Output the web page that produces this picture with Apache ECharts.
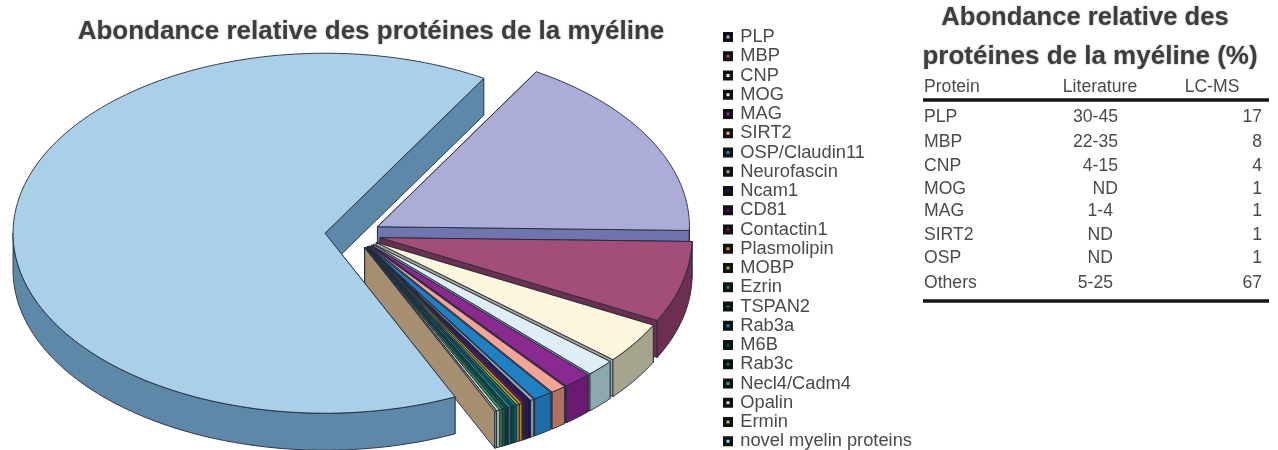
<!DOCTYPE html>
<html><head><meta charset="utf-8">
<script src="https://cdn.jsdelivr.net/npm/echarts@6/dist/echarts.min.js"></script>
<style>html,body{margin:0;padding:0;background:#fff}#c{width:1278px;height:450px}</style>
</head><body><div id="c"></div>
<script>
const proteins = ['PLP','MBP','CNP','MOG','MAG','SIRT2','OSP/Claudin11','Neurofascin','Ncam1','CD81','Contactin1','Plasmolipin','MOBP','Ezrin','TSPAN2','Rab3a','M6B','Rab3c','Necl4/Cadm4','Opalin','Ermin','novel myelin proteins'];
const shares = [16.9,7.3,3.7,1.5,1.5,0.8,1,0.2,0.15,0.15,0.15,0.15,0.15,0.15,0.15,0.15,0.15,0.15,0.15,0.15,0.1,65.6];
const topColors = ['#abacd7','#a34e78','#fbf6dc','#dfedf6','#8a2a90','#f3a595','#1f80c4','#9aa4ae','#1b1b60','#4a1060','#6b1656','#c8a020','#a8a838','#0f7f80','#125c50','#0d8fa0','#0a4d40','#1a6a50','#30a060','#d0d8d0','#c4a884','#a9cfe9'];
const wallColors = ['#6f76ad','#6d2f50','#a5a48c','#8caaae','#6a1a70','#b2705f','#1c6ea8','#8b949c','#14144a','#3a0c4c','#561246','#b08a18','#908f2a','#0b6a6b','#0e4a40','#0a7888','#083c32','#145640','#258050','#c0c8c0','#a68f70','#5d88a8'];
const tableTitle = ['Abondance relative des','protéines de la myéline (%)'];
const chartTitle = 'Abondance relative des protéines de la myéline';
const tableHeader = ['Protein','Literature','LC-MS'];
const tableProteins = ['PLP','MBP','CNP','MOG','MAG','SIRT2','OSP','Others'];
const tableLiterature = ['30-45','22-35','4-15','ND','1-4','ND','ND','5-25'];
const tableLcms = ['17','8','4','1','1','1','1','67'];

const FONT = '"Liberation Sans", Arial, sans-serif';
const cx = 353, cy = 234, rx = 312, ry = 180, depth = 37, ex = 28, ey = 15, startAngle = 30.6;
const total = shares.reduce((a,b)=>a+b,0);
const rad = d => d*Math.PI/180;

function slicePoints(i){
  let a0 = startAngle;
  for(let k=0;k<i;k++) a0 += shares[k]/total*360;
  const a1 = a0 + shares[i]/total*360, mid = rad((a0+a1)/2);
  const ox = cx + ex*Math.sin(mid), oy = cy - ey*Math.cos(mid);
  const pt = d => [ox + rx*Math.sin(rad(d)), oy - ry*Math.cos(rad(d))];
  const down = p => [p[0], p[1]+depth];
  const arc = (from,to) => { const n = Math.max(2,Math.ceil((to-from)/1.5)); const r=[]; for(let j=0;j<=n;j++) r.push(pt(from+(to-from)*j/n)); return r; };
  const apex = [ox,oy];
  const polys = [];
  polys.push({pts:[apex,pt(a0),down(pt(a0)),down(apex)],fill:wallColors[i]});
  polys.push({pts:[apex,pt(a1),down(pt(a1)),down(apex)],fill:wallColors[i]});
  const fa = Math.max(a0,90), fb = Math.min(a1,270);
  if(fb>fa){ const top = arc(fa,fb); polys.push({pts:top.concat(top.map(down).reverse()),fill:wallColors[i]}); }
  polys.push({pts:[apex].concat(arc(a0,a1)),fill:topColors[i]});
  return polys;
}
function renderSlice(i){
  return function(){
    return {type:'group',silent:true,children:slicePoints(i).map(p=>({type:'polygon',shape:{points:p.pts},style:{fill:p.fill,stroke:'#232a3c',lineWidth:0.9}}))};
  };
}
const series = proteins.map((name,i)=>({name,type:'custom',coordinateSystem:'none',data:[[shares[i]]],itemStyle:{color:topColors[i]},renderItem:renderSlice(i),animation:false,silent:true}));

const txt = (text,x,y,o={}) => ({type:'text',x,y,silent:true,style:Object.assign({text,font:'17.6px '+FONT,fill:'#4a4a4a',textVerticalAlign:'middle',textAlign:'left'},o)});
const litRight = [1118,1118,1118,1118,1113,1113,1113,1113];
const rowY = [117,142,166,189,211,235,258,283];
const g = [];
const shadow = {textShadowColor:'rgba(80,80,80,.5)',textShadowBlur:2};
g.push(txt(chartTitle,371,32,Object.assign({font:'bold 26px '+FONT,fill:'#3d3d3d',textAlign:'center'},shadow)));
g.push(txt(tableTitle[0],1085,18,Object.assign({font:'bold 25.6px '+FONT,fill:'#3d3d3d',textAlign:'center'},shadow)));
g.push(txt(tableTitle[1],1090,57,Object.assign({font:'bold 26px '+FONT,fill:'#3d3d3d',textAlign:'center'},shadow)));
g.push(txt(tableHeader[0],924,87));
g.push(txt(tableHeader[1],1100,87,{textAlign:'center'}));
g.push(txt(tableHeader[2],1212,87,{textAlign:'center'}));
tableProteins.forEach((t,i)=>{
  g.push(txt(t,924,rowY[i]));
  g.push(txt(tableLiterature[i],litRight[i],rowY[i],{textAlign:'right'}));
  g.push(txt(tableLcms[i],1262,rowY[i],{textAlign:'right'}));
});
[100,301].forEach(y=>g.push({type:'line',silent:true,shape:{x1:923,y1:y,x2:1269,y2:y},style:{stroke:'#151515',lineWidth:3.5}}));

const chart = echarts.init(document.getElementById('c'),null,{renderer:'canvas'});
chart.setOption({
  animation:false,
  backgroundColor:'#ffffff',
  tooltip:{show:false},
  legend:{data:proteins,orient:'vertical',left:718,top:23,height:427,padding:[5,5,0,5],icon:'rect',itemWidth:6.5,itemHeight:6.5,itemGap:1.25,selectedMode:false,
    itemStyle:{borderColor:'#111',borderWidth:3.5},
    textStyle:{fontFamily:'Liberation Sans',fontSize:18.3,lineHeight:18,color:'#4a4a4a',padding:[0,0,0,4]}},
  series,
  graphic:{elements:g}
});
</script></body></html>
